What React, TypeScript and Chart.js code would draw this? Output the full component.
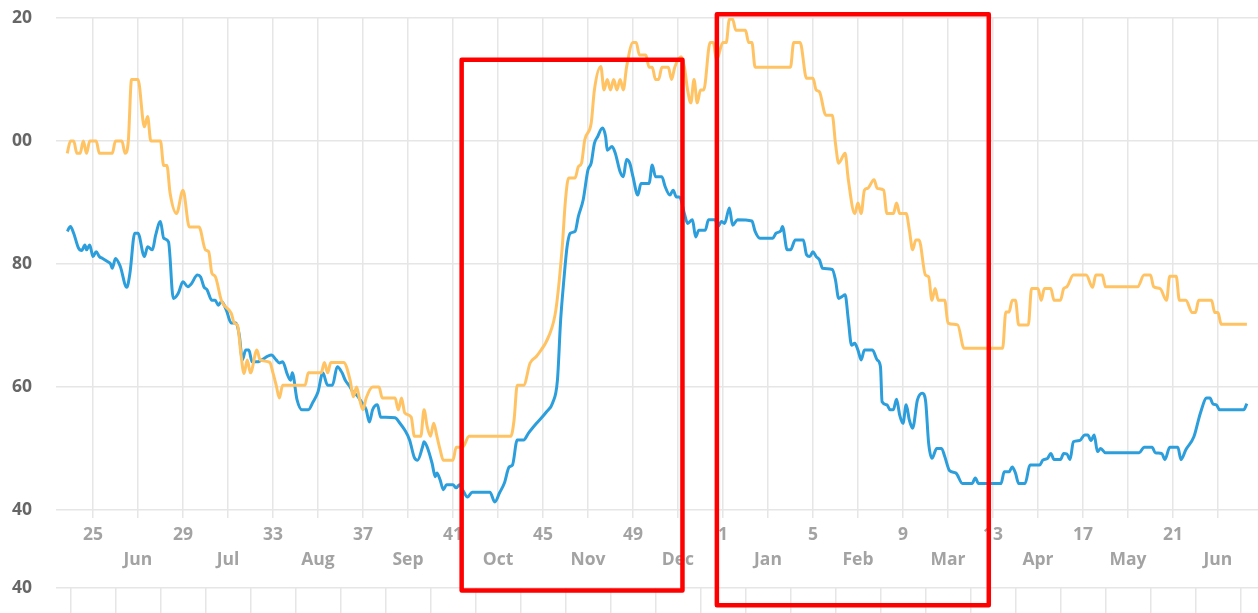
import React, { useEffect, useRef } from "react";
import { Chart, registerables } from "chart.js";

Chart.register(...registerables);

// Axis labels (x axis in days, day 0 = week 25)
const weekLabels = ["25", "29", "33", "37", "41", "45", "49", "1", "5", "9", "13", "17", "21"];
const monthLabels = ["Jun", "Jul", "Aug", "Sep", "Oct", "Nov", "Dec", "Jan", "Feb", "Mar", "Apr", "May", "Jun"];
const yTickValues = [40, 60, 80, 100, 120];
const lowerYTickValues = [0, 20, 40];

// Orange series
const orangeDays = [
  -8, -7, -6, -5, -4, -3, -2, -1, 1, 2, 6, 7, 9, 10, 11, 12, 14, 16, 17, 18, 21, 22, 23, 24, 26, 28, 30, 33, 35, 36,
  37, 38, 40, 43, 44, 45, 46, 47, 48, 49, 51, 52, 55, 56, 57, 58, 59, 66, 67, 71, 72, 73, 74, 78, 80, 81, 82, 83, 84, 85,
  87, 89, 90, 94, 95, 96, 97, 99, 100, 102, 103, 104, 105, 106, 107, 108, 109, 112, 113, 115, 117, 130, 131, 132, 134, 136, 138, 142, 144, 146,
  147, 148, 150, 151, 152, 153, 155, 156, 158, 159, 160, 161, 162, 163, 164, 165, 166, 168, 169, 170, 172, 173, 174, 175, 176, 177, 179, 180, 181, 183,
  184, 185, 186, 187, 188, 189, 190, 192, 193, 194, 196, 197, 198, 199, 200, 203, 204, 205, 206, 217, 218, 220, 222, 224, 225, 226, 228, 230, 231, 232,
  234, 235, 237, 238, 239, 240, 241, 243, 244, 246, 247, 249, 250, 251, 253, 254, 255, 256, 257, 259, 260, 261, 262, 263, 265, 266, 269, 271, 283, 284,
  285, 286, 287, 288, 291, 292, 294, 295, 296, 298, 299, 301, 302, 303, 305, 309, 311, 312, 314, 315, 325, 327, 329, 330, 332, 334, 335, 337, 338, 340,
  342, 343, 344, 348, 349, 350, 351, 359,
];
const orangeValues = [
  98, 100, 100, 98, 98, 100, 98, 100, 100, 98, 98, 100, 100, 98, 100, 110, 110, 102.3, 104, 100, 100, 96, 96, 91.5, 88.2, 92, 86, 86, 82.3, 82,
  78.5, 78, 74, 72, 70.4, 70, 65.5, 62.2, 64.4, 62.3, 66, 64.4, 64, 62.3, 60.3, 58.2, 60.3, 60.3, 62.3, 62.3, 64, 62.3, 64, 64, 61.1, 58.4, 60, 57.9, 56.3, 58.2,
  60, 60, 58.2, 58.2, 56.3, 58.2, 55.8, 55.1, 52, 52, 56.3, 53.5, 52, 54.1, 52, 49.8, 48.1, 48.1, 50.2, 50.2, 52, 52, 54.6, 60.3, 60.3, 63.9, 65, 68.5, 72.5, 82.8,
  90.4, 94, 94, 95.8, 96.4, 100.2, 102.9, 108.3, 112.1, 108.3, 110, 108.3, 110, 108.3, 110, 108.3, 112, 116, 116, 114, 114, 112, 112, 110, 110, 112, 112, 110, 112, 113.7,
  112, 108.3, 106.2, 110, 106.2, 108.3, 108.3, 116, 116, 113.2, 116, 116, 119.8, 119.8, 118, 118, 116, 116, 112, 112, 116, 116, 110.2, 110.2, 108.3, 108, 104.2, 104.2, 99.6, 96.4,
  98, 93.7, 88.2, 89.9, 88.2, 92, 92.3, 93.7, 92.3, 92, 88.2, 88.2, 89.9, 88.2, 88.2, 85.5, 82.3, 83.9, 83.9, 78.2, 77.9, 74.1, 76, 74.1, 74.1, 70.4, 70.1, 66.3, 66.3, 72.2,
  72.2, 74.1, 74.1, 70.1, 70.1, 76, 76, 74.1, 76, 76, 74.1, 74.1, 76, 76.3, 78.2, 78.2, 76.2, 78.2, 78.2, 76.3, 76.3, 78.2, 78.2, 76.3, 76, 74.1, 78, 78, 74.1, 74.1,
  72.1, 72.1, 74.1, 74.1, 72.1, 72.1, 70.2, 70.2,
];

// Blue series
const blueDays = [
  -8, -7, -6, -4.5, -3.5, -2.5, -2, -1, 0, 1, 2, 3, 4.5, 5.5, 6, 7, 8.5, 10.5, 11.5, 13, 14, 16, 17, 18.5, 19.5, 21, 22, 23.5, 25, 26.5,
  28, 29.5, 30.5, 32.5, 33.5, 34.5, 35.5, 37, 38, 39, 40, 41.5, 43, 44.5, 45.5, 46.5, 47.5, 48.5, 49.5, 51, 55.5, 57, 58, 59, 60.5, 61.5, 62, 63.5, 65, 67,
  68.5, 70, 71.5, 73, 74.5, 76, 77.5, 78.5, 80, 81, 82, 83.5, 85, 86, 87, 88.5, 89.5, 91, 94, 95.5, 97, 98.5, 100, 101, 102.5, 103, 104, 105.5, 106.5, 107,
  108, 109, 110, 112, 113, 114, 115, 116.5, 118, 123.5, 125, 126.5, 128, 129.5, 130.5, 132, 134, 135.5, 138, 141, 143, 144.5, 145.5, 146.5, 147.5, 148.5, 150, 151, 152.5, 154,
  155, 156, 157, 158.5, 159.5, 160, 161.5, 162.5, 164, 165, 166, 167, 168, 169.5, 170.5, 173, 174, 175, 177, 178, 179.5, 180.5, 181.5, 182.5, 184, 185, 186.5, 187.5, 188.5, 190.5,
  191.5, 193.5, 194.5, 195.5, 196.5, 198, 199, 200.5, 205, 206, 207.5, 211.5, 212.5, 214, 214.5, 216, 217, 218.5, 221, 222, 223, 224, 225, 226, 227, 230, 231, 232, 233, 234,
  235, 236, 237, 238, 239, 240, 242.5, 244, 245, 245.5, 247, 248, 249, 250, 251, 252, 253, 254, 255, 256.5, 258, 259, 260, 261, 262.5, 264, 265, 266.5, 268.5, 270.5,
  273.5, 274.5, 275.5, 282.5, 283.5, 285, 286, 287, 288, 290, 291.5, 294.5, 295.5, 297, 298, 299, 301, 302, 303, 304, 305, 307, 308.5, 309.5, 310.5, 311.5, 312.5, 313.5, 315, 325.5,
  327, 329.5, 330.5, 332.5, 333.5, 335, 337.5, 338.5, 340, 342.5, 344.5, 346.5, 347.5, 348.5, 349.5, 350.5, 358, 359,
];
const blueValues = [
  85.3, 86.1, 85, 82.6, 82.2, 83.1, 82.3, 83.1, 81.2, 82, 81.2, 80.9, 80.4, 80, 79.3, 80.9, 79.6, 76.2, 78.5, 85, 85, 81.2, 82.8, 82.3, 84.7, 86.9, 84.2, 83.6, 74.4, 75.2,
  77.1, 76.3, 76.7, 78.2, 77.9, 76.3, 75.8, 74.1, 74.1, 73.3, 73.9, 72.5, 70.4, 70.4, 68.5, 64.4, 66, 66, 64.1, 64.1, 65.2, 64.4, 63.9, 64.1, 62, 61.1, 62.3, 57.9, 56.3, 56.3,
  57.6, 59.2, 62.3, 60.3, 60.3, 63.3, 62.3, 61.1, 60, 59, 58.7, 57.6, 56.3, 54.3, 56.3, 57.1, 55.1, 55.1, 55, 54.1, 53, 51.4, 48.5, 48.1, 50.2, 51.1, 50.2, 47.6, 45.4, 46,
  44.9, 43.3, 44.1, 44.1, 43.6, 44.1, 43.3, 42.1, 42.9, 42.9, 41.3, 42.8, 44.4, 47, 47.3, 51.4, 51.4, 52.5, 54.1, 55.9, 57.4, 61.1, 70.9, 77.4, 82.8, 85, 85.3, 87.7, 90.4, 95.3,
  96.4, 99.6, 100.7, 102.1, 100.7, 98.5, 99.1, 98, 95, 94.2, 97, 96.4, 94.2, 91.2, 93.1, 93.1, 96.1, 94.2, 94.2, 92.6, 91.2, 92, 90.9, 90.9, 88.2, 86.6, 87.2, 84.4, 85.5, 85.5,
  87.2, 87.2, 86.1, 86.9, 86.6, 89.1, 86.3, 87.2, 87, 85.3, 84.2, 84.2, 85, 85.4, 86.1, 82.3, 82.3, 83.9, 83.9, 81.5, 81.2, 82, 81.2, 80.7, 79.3, 79.1, 77.4, 74.4, 74.7, 75,
  70.9, 66.8, 67.1, 66, 64.4, 66, 66, 64.4, 63.3, 57.6, 57.1, 56.3, 56.3, 58, 55.4, 54.1, 57.1, 54.6, 53.3, 57.9, 59, 57.9, 50.8, 48.4, 50, 50, 48.7, 46.4, 46, 44.3,
  44.3, 45.2, 44.3, 44.3, 46.2, 46.2, 47, 46, 44.3, 44.3, 47.3, 47.3, 48.1, 48.4, 49.2, 48.2, 48.2, 49.2, 49.1, 48.2, 51.1, 51.3, 52.2, 52.2, 51.3, 52.2, 49.5, 50, 49.3, 49.3,
  50.2, 50.2, 49.3, 49.2, 48.2, 50.2, 50.2, 48.2, 49.8, 51.9, 55.7, 58.2, 58.2, 57.2, 57.1, 56.3, 56.3, 57.3,
];

// Highlight boxes (day range, value range)
const highlightFrom = [114.7, 194.1];
const highlightTo = [183.4, 278.7];
const highlightTop = [113.2, 120.6];
const highlightBottom = [26.9, 24.5];

const DAYS_PER_WEEK = 7;
const xMin = -11.5;
const xMax = 366;

const FONT = { family: '"Open Sans", sans-serif', size: 17.5, weight: "bold" as const, lineHeight: 1.45 };

const highlightPlugin = {
  id: "highlightBoxes",
  afterDraw(chart: any) {
    const { ctx } = chart;
    const x = chart.scales.x;
    const y = chart.scales.y;
    ctx.save();
    ctx.strokeStyle = "#ff0000";
    ctx.lineWidth = 4.5;
    ctx.lineJoin = "round";
    highlightFrom.forEach((f, i) => {
      const l = x.getPixelForValue(f);
      const r = x.getPixelForValue(highlightTo[i]);
      const t = y.getPixelForValue(highlightTop[i]);
      const b = y.getPixelForValue(highlightBottom[i]);
      ctx.strokeRect(l, t, r - l, b - t);
    });
    ctx.restore();
  },
};

const noScalePadding = (s: any) => {
  s.paddingTop = 0;
  s.paddingBottom = 0;
  s.paddingLeft = 0;
  s.paddingRight = 0;
};

export default function App() {
  const topRef = useRef<HTMLCanvasElement>(null);
  const bottomRef = useRef<HTMLCanvasElement>(null);

  useEffect(() => {
    const tickDays: number[] = [];
    weekLabels.forEach((_, i) => {
      tickDays.push(i * 4 * DAYS_PER_WEEK);
      tickDays.push(i * 4 * DAYS_PER_WEEK + 2 * DAYS_PER_WEEK);
    });
    const lowerTickDays: number[] = [];
    for (let i = 0; i <= 26; i++) lowerTickDays.push(-DAYS_PER_WEEK + i * 2 * DAYS_PER_WEEK);

    const top = new Chart(topRef.current!, {
      type: "line",
      data: {
        datasets: [
          {
            label: "orange",
            data: orangeDays.map((d, i) => ({ x: d, y: orangeValues[i] })),
            borderColor: "#ffc364",
            borderWidth: 3,
            pointRadius: 0,
            cubicInterpolationMode: "monotone",
            fill: false,
          },
          {
            label: "blue",
            data: blueDays.map((d, i) => ({ x: d, y: blueValues[i] })),
            borderColor: "#2c9edb",
            borderWidth: 3,
            pointRadius: 0,
            cubicInterpolationMode: "monotone",
            fill: false,
          },
        ],
      },
      options: {
        responsive: true,
        maintainAspectRatio: false,
        animation: false,
        layout: { padding: { top: 18, right: 20.6, bottom: 0, left: 0 } },
        plugins: { legend: { display: false }, tooltip: { enabled: false } },
        scales: {
          x: {
            type: "linear",
            min: xMin,
            max: xMax,
            afterBuildTicks: (s: any) => {
              s.ticks = tickDays.map((v) => ({ value: v }));
            },
            afterFit: (s: any) => {
              s.height = 103;
              noScalePadding(s);
            },
            grid: { color: "#e6e6e6", lineWidth: 1.5, tickLength: 8, drawTicks: true },
            border: { display: false },
            ticks: {
              autoSkip: false,
              maxRotation: 0,
              minRotation: 0,
              padding: 4,
              color: "#a3a3a3",
              font: FONT,
              callback: (v: any) => {
                const k = Math.round(Number(v) / (2 * DAYS_PER_WEEK));
                return k % 2 === 0 ? [weekLabels[k / 2], ""] : ["", monthLabels[(k - 1) / 2]];
              },
            },
          },
          y: {
            min: 40,
            max: 120,
            afterBuildTicks: (s: any) => {
              s.ticks = yTickValues.map((v) => ({ value: v }));
            },
            afterFit: (s: any) => {
              s.width = 56;
              noScalePadding(s);
            },
            grid: { color: "#e6e6e6", lineWidth: 1.5, drawTicks: false },
            border: { display: false },
            ticks: { padding: 24, color: "#666666", font: FONT },
          },
        },
      },
      plugins: [highlightPlugin],
    } as any);

    const bottom = new Chart(bottomRef.current!, {
      type: "line",
      data: { datasets: [{ data: [], borderWidth: 0, pointRadius: 0 }] },
      options: {
        responsive: true,
        maintainAspectRatio: false,
        animation: false,
        layout: { padding: { top: 28, right: 20.6, bottom: 0, left: 0 } },
        plugins: { legend: { display: false }, tooltip: { enabled: false } },
        scales: {
          x: {
            type: "linear",
            min: xMin,
            max: xMax,
            afterBuildTicks: (s: any) => {
              s.ticks = lowerTickDays.map((v) => ({ value: v }));
            },
            afterFit: (s: any) => {
              noScalePadding(s);
            },
            grid: { color: "#e6e6e6", lineWidth: 1.5, drawTicks: false },
            border: { display: false },
            ticks: { display: false },
          },
          y: {
            min: 0,
            max: 40,
            afterBuildTicks: (s: any) => {
              s.ticks = lowerYTickValues.map((v) => ({ value: v }));
            },
            afterFit: (s: any) => {
              s.width = 56;
              noScalePadding(s);
            },
            grid: { color: "#e6e6e6", lineWidth: 1.5, drawTicks: false },
            border: { display: false },
            ticks: { padding: 24, color: "#666666", font: FONT },
          },
        },
      },
    } as any);

    return () => {
      top.destroy();
      bottom.destroy();
    };
  }, []);

  return (
    <div style={{ position: "fixed", left: 0, top: 0, width: 1258, height: 613, overflow: "hidden", background: "#fff" }}>
      <div style={{ position: "absolute", left: 10.5, top: 0, right: 0, bottom: 0, overflow: "hidden" }}>
        <div style={{ position: "absolute", left: -10.5, top: 560, width: 1290, height: 200, zIndex: 1 }}>
          <canvas ref={bottomRef} />
        </div>
        <div style={{ position: "absolute", left: -10.5, top: 0, width: 1290, height: 613, zIndex: 2 }}>
          <canvas ref={topRef} />
        </div>
      </div>
    </div>
  );
}
